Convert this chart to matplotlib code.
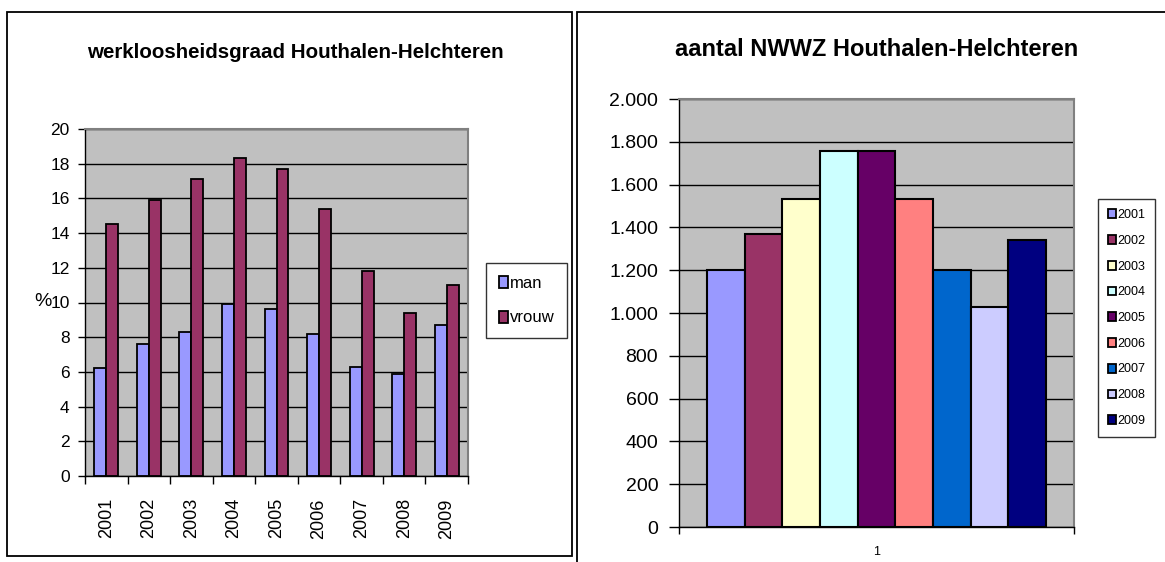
import matplotlib
matplotlib.use("Agg")
import matplotlib.pyplot as plt
from matplotlib.patches import Rectangle, Patch
from matplotlib import font_manager

# --- data -------------------------------------------------------------
years = ["2001", "2002", "2003", "2004", "2005", "2006", "2007", "2008", "2009"]
rate_man = [6.2, 7.6, 8.3, 9.9, 9.6, 8.2, 6.3, 5.9, 8.7]
rate_vrouw = [14.5, 15.9, 17.1, 18.3, 17.7, 15.4, 11.8, 9.4, 11.0]
nwwz = [1200, 1370, 1535, 1755, 1755, 1535, 1200, 1030, 1340]
series_labels = ["man", "vrouw"]
left_yticks = [0, 2, 4, 6, 8, 10, 12, 14, 16, 18, 20]
right_yticks = [0, 200, 400, 600, 800, 1000, 1200, 1400, 1600, 1800, 2000]
right_cat = ["1"]

# --- styling ----------------------------------------------------------
col_man = "#9999FF"
col_vrouw = "#993366"
year_colors = ["#9999FF", "#993366", "#FFFFCC", "#CCFFFF", "#660066",
               "#FF8080", "#0066CC", "#CCCCFF", "#000080"]
plot_bg = "#C0C0C0"


def pick_font(names):
    for n in names:
        try:
            font_manager.findfont(font_manager.FontProperties(family=n),
                                  fallback_to_default=False)
            return n
        except Exception:
            continue
    return "DejaVu Sans"


narrow = pick_font(["Liberation Sans Narrow", "Liberation Sans"])
arial = pick_font(["Liberation Sans", "DejaVu Sans"])

W, H = 1165, 562
fig = plt.figure(figsize=(W / 100, H / 100), dpi=100)
fig.patch.set_facecolor("white")


def rect(x0, y0, x1, y1):
    return [x0 / W, 1 - y1 / H, (x1 - x0) / W, (y1 - y0) / H]


def fx(x):
    return x / W


def fy(y):
    return 1 - y / H


# panel frames
fig.add_artist(Rectangle((fx(7), fy(556)), fx(572) - fx(7), fy(12) - fy(556),
                         transform=fig.transFigure, fill=False,
                         edgecolor="black", lw=1.3))
fig.add_artist(Rectangle((fx(577), fy(575)), fx(1175) - fx(577), fy(12) - fy(575),
                         transform=fig.transFigure, fill=False,
                         edgecolor="black", lw=1.3, clip_on=False))


def style_axes(ax):
    ax.set_facecolor(plot_bg)
    for s in ["top", "right"]:
        ax.spines[s].set_color("#808080")
        ax.spines[s].set_linewidth(1.5)
    for s in ["left", "bottom"]:
        ax.spines[s].set_color("black")
        ax.spines[s].set_linewidth(1.0)
    ax.yaxis.grid(True, color="black", lw=1.0)
    ax.set_axisbelow(True)


# --- left chart: unemployment rate -------------------------------------
axL = fig.add_axes(rect(85, 129, 468, 476))
style_axes(axL)
n = len(years)
xs = list(range(n))
bw = 0.28
axL.bar([x - bw / 2 for x in xs], rate_man, bw, color=col_man,
        edgecolor="black", lw=1.3, label=series_labels[0])
axL.bar([x + bw / 2 for x in xs], rate_vrouw, bw, color=col_vrouw,
        edgecolor="black", lw=1.3, label=series_labels[1])
axL.set_xlim(-0.5, n - 0.5)
axL.set_ylim(0, 20)
axL.set_yticks(left_yticks)
axL.set_yticklabels([str(v) for v in left_yticks], fontfamily=narrow,
                    fontsize=12.5)
axL.tick_params(axis="y", length=5, width=1, pad=6)
axL.set_xticks(xs)
axL.set_xticklabels(years, rotation=90, fontfamily=narrow, fontsize=13)
axL.tick_params(axis="x", which="major", length=0, pad=16)
axL.set_xticks([x - 0.5 for x in range(n + 1)], minor=True)
axL.tick_params(axis="x", which="minor", length=6, width=1)
fig.text(fx(43), fy(302), "%", fontfamily=narrow, fontsize=14,
         ha="center", va="center")
fig.text(fx(295), fy(52), "werkloosheidsgraad Houthalen-Helchteren",
         fontfamily=narrow, fontweight="bold", fontsize=14.8,
         ha="center", va="center")

hL = [Patch(facecolor=col_man, edgecolor="black", lw=1.3),
      Patch(facecolor=col_vrouw, edgecolor="black", lw=1.3)]
legL = fig.legend(hL, series_labels, loc="upper left",
                  bbox_to_anchor=(fx(486), fy(263)), frameon=True,
                  fancybox=False, edgecolor="black",
                  prop={"family": narrow, "size": 12},
                  handlelength=0.55, handleheight=0.7, handletextpad=0.15,
                  labelspacing=1.2, borderpad=0.75, borderaxespad=0)
legL.get_frame().set_linewidth(1.0)

# --- right chart: number of NWWZ ---------------------------------------
axR = fig.add_axes(rect(679, 99, 1074, 527))
style_axes(axR)
wR = 0.858 / len(years)
start = -0.429
for k, (yr, v) in enumerate(zip(years, nwwz)):
    axR.bar(start + wR * (k + 0.5), v, wR, color=year_colors[k],
            edgecolor="black", lw=1.5, label=yr)
axR.set_xlim(-0.5, 0.5)
axR.set_ylim(0, 2000)
axR.set_yticks(right_yticks)
axR.set_yticklabels([f"{v:,}".replace(",", ".") for v in right_yticks],
                    fontfamily=arial, fontsize=14)
axR.tick_params(axis="y", length=7, width=1, pad=8)
axR.set_xticks([0])
axR.set_xticklabels(right_cat, fontfamily=arial, fontsize=9)
axR.tick_params(axis="x", which="major", length=0, pad=14)
axR.set_xticks([-0.5, 0.5], minor=True)
axR.tick_params(axis="x", which="minor", length=5, width=1)
fig.text(fx(877), fy(50), "aantal NWWZ Houthalen-Helchteren",
         fontfamily=arial, fontweight="bold", fontsize=17,
         ha="center", va="center")

hR = [Patch(facecolor=c, edgecolor="black", lw=1.3) for c in year_colors]
legR = fig.legend(hR, years, loc="upper left",
                  bbox_to_anchor=(fx(1098), fy(199)), frameon=True,
                  fancybox=False, edgecolor="black",
                  prop={"family": arial, "size": 9},
                  handlelength=0.6, handleheight=0.7, handletextpad=0.15,
                  labelspacing=1.1, borderpad=0.8, borderaxespad=0)
legR.get_frame().set_linewidth(1.0)

fig.savefig("out.png", dpi=100, facecolor="white")
